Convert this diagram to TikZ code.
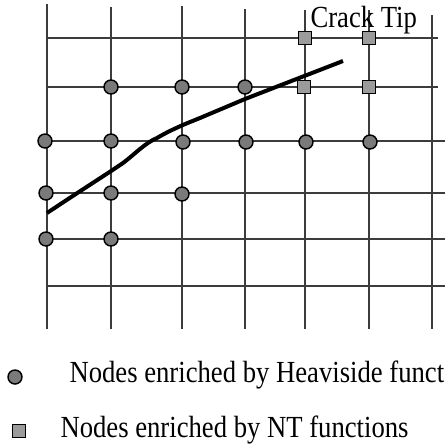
\documentclass[tikz,border=0pt]{standalone}
\usepackage{fontspec}
\setmainfont{Liberation Serif}

\definecolor{gridgray}{RGB}{60,60,60}
\definecolor{heavgray}{RGB}{122,122,122}
\definecolor{ntgray}{RGB}{155,155,155}

\newcommand{\tallText}[1]{\scalebox{1}[1.15]{#1}}

\tikzset{every picture/.style={line width=0.75pt}}
\tikzset{
  heavnode/.style={circle,draw=black,fill=heavgray,line width=1.1pt,inner sep=0pt,minimum size=10.5pt},
  ntnode/.style={rectangle,draw=black,fill=ntgray,line width=1.1pt,inner sep=0pt,minimum size=9.5pt},
  gridline/.style={draw=gridgray,line width=0.95pt},
  label/.style={font=\fontsize{20}{24}\selectfont,inner sep=0pt}
}

\begin{document}
\begin{tikzpicture}[x=0.75pt,y=0.75pt,yscale=-1,xscale=1]
\useasboundingbox (0,0) rectangle (445,447);

%Grid: vertical lines
\foreach \x/\t in {47/4,111/7,182/6,245/9,305/10,369/10,432/15}
  \draw [gridline] (\x,\t) -- (\x,329) ;
%Grid: horizontal lines
\foreach \y/\e in {38/438,87/438,141/445,193/445,239/445,286/445}
  \draw [gridline] (46,\y) -- (\e,\y) ;

%Crack
\draw [line width=3pt] (47,213) .. controls (80,191) and (110,172) .. (123,163) .. controls (135,154) and (145,143) .. (157,138) .. controls (172,129) and (190,122) .. (200,118) -- (245,99) -- (343,61) ;
\coordinate (tipend) at (343,61);

%Nodes enriched by Heaviside function
\node [heavnode] (h22) at (111,87) {};
\node [heavnode] (h23) at (182,87) {};
\node [heavnode] (h24) at (245,87) {};
\node [heavnode] (h31) at (45,141) {};
\node [heavnode] (h32) at (111,141) {};
\node [heavnode] (h33) at (183,142) {};
\node [heavnode] (h34) at (246,142) {};
\node [heavnode] (h35) at (306,142) {};
\node [heavnode] (h36) at (370,142) {};
\node [heavnode] (h41) at (46,193) {};
\node [heavnode] (h42) at (111,193) {};
\node [heavnode] (h43) at (182,194) {};
\node [heavnode] (h51) at (46,239) {};
\node [heavnode] (h52) at (111,239) {};

%Nodes enriched by NT functions
\node [ntnode] (n15) at (305,38) {};
\node [ntnode] (n16) at (369,38) {};
\node [ntnode] (n25) at (304,87) {};
\node [ntnode] (n26) at (369,87) {};

% Text Node
\node [label,anchor=base west] (tip) at (310,27) {\tallText{Crack Tip}};

%Legend
\node [heavnode] (legheav) at (15,377) {};
\node [label,anchor=base west] (legheavtext) at (69,382) {\tallText{Nodes enriched by Heaviside funct}};
\node [ntnode] (legnt) at (19,431) {};
\node [label,anchor=base west] (legnttext) at (60,437) {\tallText{Nodes enriched by NT functions}};

\end{tikzpicture}
\end{document}
